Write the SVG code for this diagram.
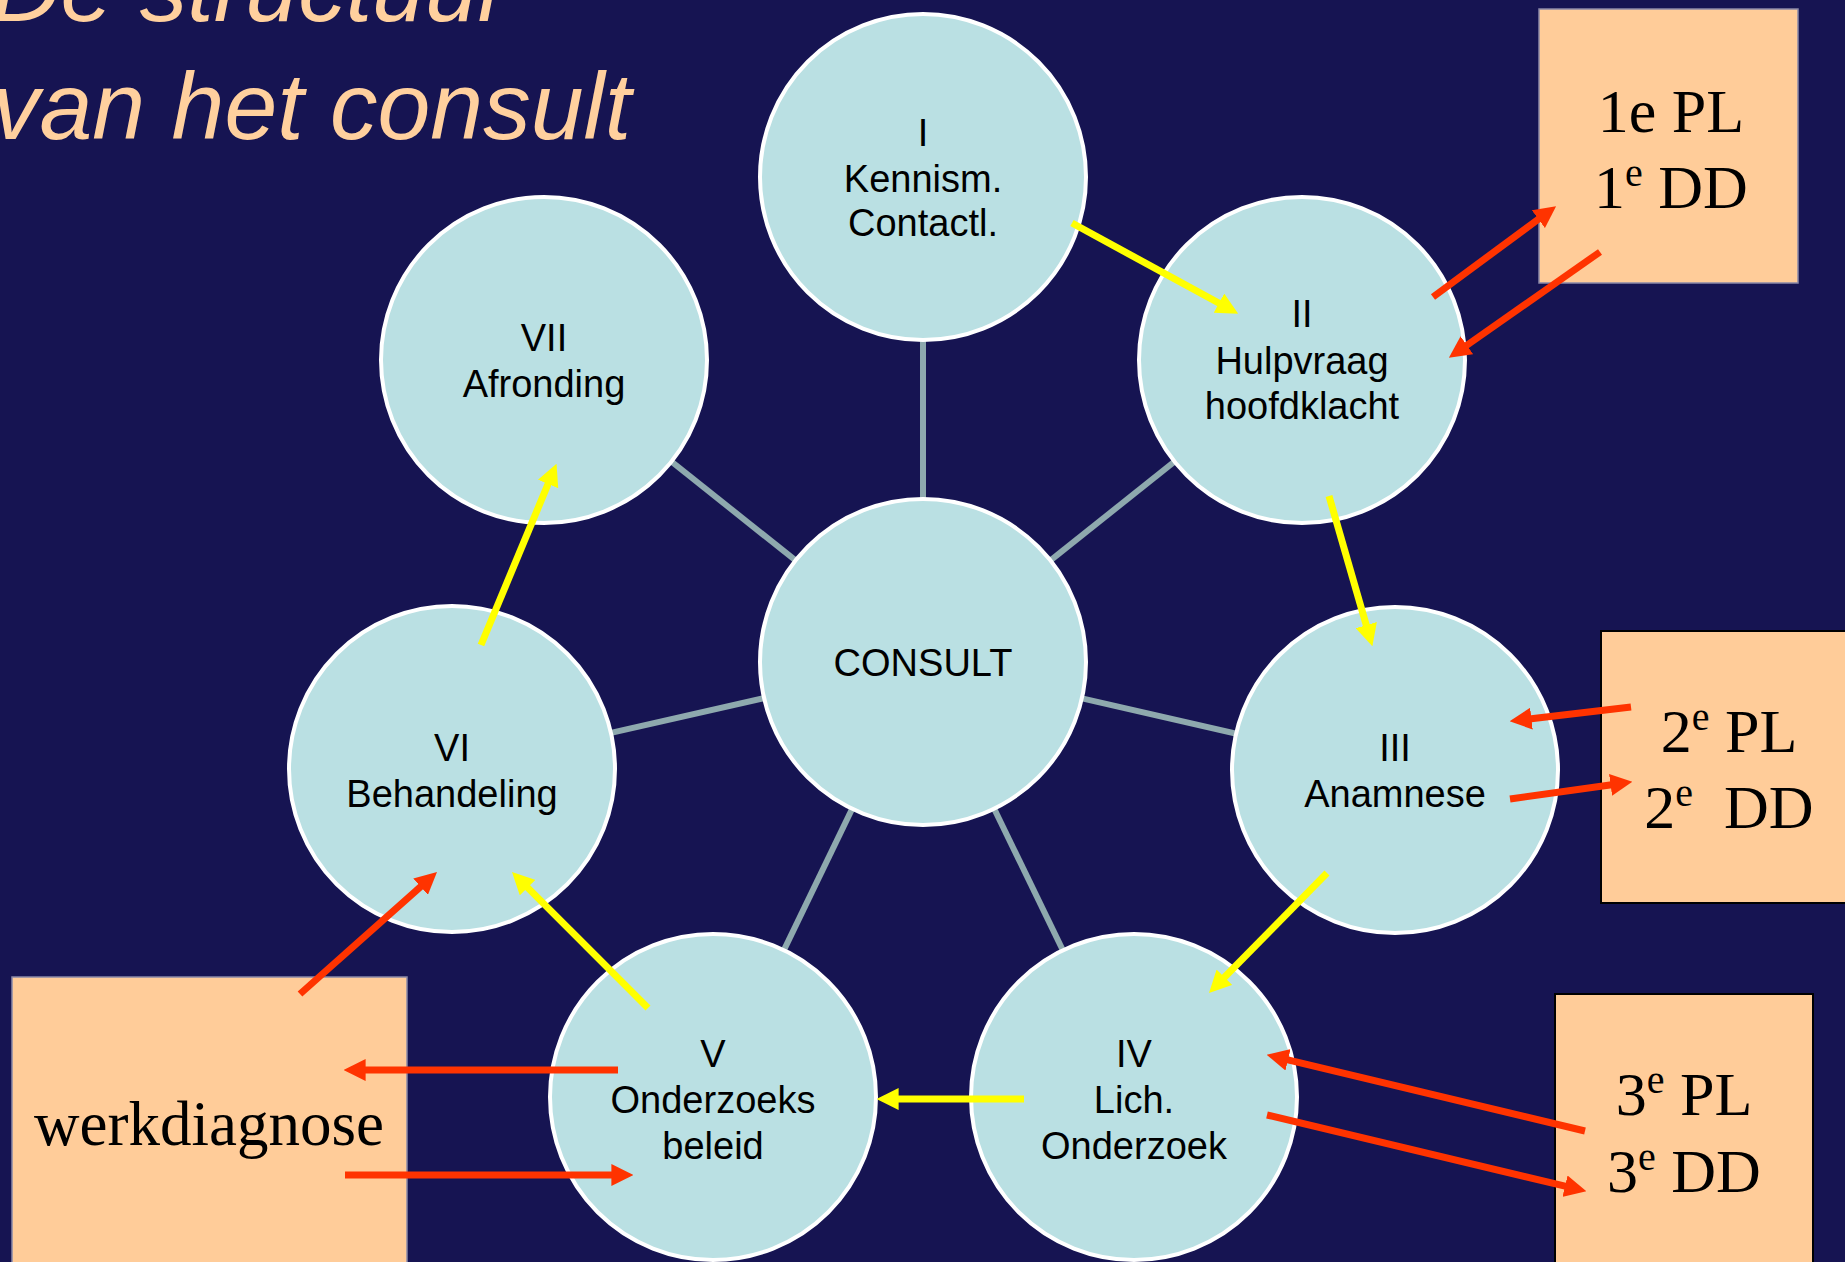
<svg xmlns="http://www.w3.org/2000/svg" width="1845" height="1262" viewBox="0 0 1845 1262">
<defs>
<style>
.bg{fill:#161452}
.node circle{fill:#BAE0E3;stroke:#FFFFFF;stroke-width:4}
.node text{font-family:"Liberation Sans",Arial,sans-serif;font-size:38px;fill:#000;text-anchor:middle}
.box rect{fill:#FFCC99}
.box text{font-family:"Liberation Serif","Times New Roman",serif;font-size:62px;fill:#000;text-anchor:middle}
.spoke{stroke:#8EA9AE;stroke-width:6}
.ya{stroke:#FFFF00;stroke-width:7;fill:none;marker-end:url(#ah-y)}
.ra{stroke:#FF3300;stroke-width:7;fill:none;marker-end:url(#ah-r)}
.title{font-family:"Liberation Sans",Arial,sans-serif;font-style:italic;font-size:95px;fill:#FFD09E}
</style>
<marker id="ah-y" markerUnits="userSpaceOnUse" markerWidth="22" markerHeight="22" viewBox="0 0 20 20" refX="6" refY="10" orient="auto"><path d="M0,0 L20,10 L0,20 z" fill="#FFFF00"/></marker>
<marker id="ah-r" markerUnits="userSpaceOnUse" markerWidth="22" markerHeight="22" viewBox="0 0 20 20" refX="6" refY="10" orient="auto"><path d="M0,0 L20,10 L0,20 z" fill="#FF3300"/></marker>
</defs>
<rect class="bg" x="0" y="0" width="1845" height="1262"/>

<g id="title">
<text class="title" x="-8" y="21">De structuur</text>
<text class="title" x="-8" y="139">van het consult</text>
</g>

<g id="spokes">
<line class="spoke" x1="923" y1="662" x2="923" y2="177"/>
<line class="spoke" x1="923" y1="662" x2="1302" y2="360"/>
<line class="spoke" x1="923" y1="662" x2="1395" y2="770"/>
<line class="spoke" x1="923" y1="662" x2="1134" y2="1097"/>
<line class="spoke" x1="923" y1="662" x2="713" y2="1097"/>
<line class="spoke" x1="923" y1="662" x2="452" y2="769"/>
<line class="spoke" x1="923" y1="662" x2="544" y2="360"/>
</g>

<g id="node-consult" class="node"><circle cx="923" cy="662" r="163"/><text x="923" y="676">CONSULT</text></g>
<g id="node-I" class="node"><circle cx="923" cy="177" r="163"/><text x="923" y="146">I</text><text x="923" y="192">Kennism.</text><text x="923" y="236">Contactl.</text></g>
<g id="node-II" class="node"><circle cx="1302" cy="360" r="163"/><text x="1302" y="327">II</text><text x="1302" y="374">Hulpvraag</text><text x="1302" y="419">hoofdklacht</text></g>
<g id="node-III" class="node"><circle cx="1395" cy="770" r="163"/><text x="1395" y="761">III</text><text x="1395" y="807">Anamnese</text></g>
<g id="node-IV" class="node"><circle cx="1134" cy="1097" r="163"/><text x="1134" y="1067">IV</text><text x="1134" y="1113">Lich.</text><text x="1134" y="1159">Onderzoek</text></g>
<g id="node-V" class="node"><circle cx="713" cy="1097" r="163"/><text x="713" y="1067">V</text><text x="713" y="1113">Onderzoeks</text><text x="713" y="1159">beleid</text></g>
<g id="node-VI" class="node"><circle cx="452" cy="769" r="163"/><text x="452" y="761">VI</text><text x="452" y="807">Behandeling</text></g>
<g id="node-VII" class="node"><circle cx="544" cy="360" r="163"/><text x="544" y="351">VII</text><text x="544" y="397">Afronding</text></g>

<g id="box-1" class="box"><rect x="1539" y="9" width="259" height="274" stroke="#8A88A8" stroke-width="1.5"/>
<text x="1671" y="132">1e PL</text>
<text x="1671" y="208">1<tspan font-size="40" dy="-22">e</tspan><tspan dy="22"> DD</tspan></text></g>
<g id="box-2" class="box"><rect x="1601" y="631" width="270" height="272" stroke="#000" stroke-width="2"/>
<text x="1729" y="752">2<tspan font-size="40" dy="-22">e</tspan><tspan dy="22"> PL</tspan></text>
<text x="1729" y="828" xml:space="preserve">2<tspan font-size="40" dy="-22">e</tspan><tspan dy="22">  DD</tspan></text></g>
<g id="box-3" class="box"><rect x="1555" y="994" width="258" height="290" stroke="#000" stroke-width="2"/>
<text x="1684" y="1115">3<tspan font-size="40" dy="-22">e</tspan><tspan dy="22"> PL</tspan></text>
<text x="1684" y="1192">3<tspan font-size="40" dy="-22">e</tspan><tspan dy="22"> DD</tspan></text></g>
<g id="box-werkdiagnose" class="box"><rect x="12" y="977" width="395" height="300" stroke="#8A88A8" stroke-width="1.5"/>
<text x="209" y="1145" style="font-size:63px">werkdiagnose</text></g>

<g id="connectors">
<line class="ya" x1="1072" y1="223" x2="1224.7" y2="306.3"/>
<line class="ya" x1="1329" y1="496" x2="1368.1" y2="631.5"/>
<line class="ya" x1="1327" y1="873" x2="1219.8" y2="982"/>
<line class="ya" x1="1024" y1="1099" x2="892" y2="1099"/>
<line class="ya" x1="648" y1="1008" x2="522.9" y2="882.9"/>
<line class="ya" x1="481" y1="645" x2="550.6" y2="477.9"/>
<line class="ra" x1="1433" y1="297" x2="1543.7" y2="215.3"/>
<line class="ra" x1="1600" y1="252" x2="1461.5" y2="349"/>
<line class="ra" x1="1631" y1="707" x2="1524.9" y2="719.4"/>
<line class="ra" x1="1510" y1="799" x2="1617.1" y2="784"/>
<line class="ra" x1="1585" y1="1131" x2="1281.6" y2="1058.3"/>
<line class="ra" x1="1267" y1="1115" x2="1571.4" y2="1187.7"/>
<line class="ra" x1="618" y1="1070" x2="359" y2="1070"/>
<line class="ra" x1="345" y1="1175" x2="618" y2="1175"/>
<line class="ra" x1="300" y1="994" x2="425.5" y2="882.3"/>
</g>
</svg>
